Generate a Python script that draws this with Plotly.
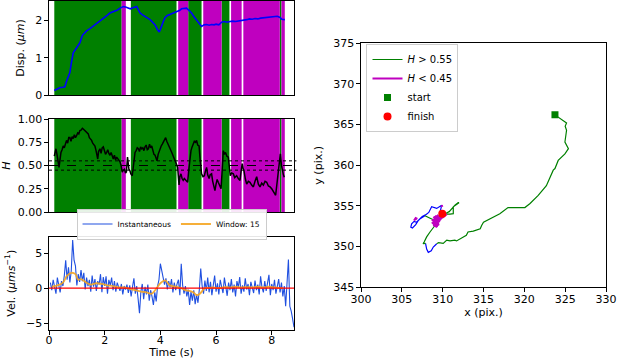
import numpy as np
import plotly.graph_objects as go

FONT = "DejaVu Sans"
GREEN = "#008000"
MAG = "#bf00bf"

# ---------------- data ----------------
# background classification regions (time, s)
green_starts = [0.19, 2.94, 5.00, 6.20, 8.29]
green_ends = [2.61, 4.58, 5.48, 6.48, 8.35]
mag_starts = [2.61, 4.64, 5.54, 6.54, 6.98, 8.35]
mag_ends = [2.76, 5.00, 6.20, 6.92, 8.29, 8.47]

# displacement (um)
disp_t = [0.19, 0.3, 0.4, 0.5, 0.57, 0.63, 0.7, 0.75, 0.8, 0.87, 0.95, 0.99, 1.05, 1.11, 1.2, 1.29,
          1.35, 1.47, 1.56, 1.65, 1.74, 1.83, 1.92, 2.01, 2.1, 2.19, 2.28, 2.37, 2.46, 2.55, 2.67,
          2.75, 2.85, 2.92, 2.99, 3.07, 3.15, 3.21, 3.27, 3.36, 3.45, 3.54, 3.63, 3.72, 3.81, 3.9,
          3.96, 4.0, 4.05, 4.11, 4.17, 4.25, 4.34, 4.43, 4.52, 4.6, 4.64, 4.7, 4.76, 4.85, 4.94,
          5.03, 5.12, 5.21, 5.3, 5.39, 5.48, 5.57, 5.66, 5.75, 5.84, 5.93, 6.0, 6.1, 6.2, 6.3, 6.4,
          6.5, 6.6, 6.7, 6.8, 6.9, 7.0, 7.1, 7.2, 7.3, 7.4, 7.5, 7.6, 7.7, 7.8, 7.9, 8.0, 8.1, 8.2,
          8.3, 8.36, 8.47]
disp_val = [0.12, 0.17, 0.2, 0.21, 0.22, 0.37, 0.5, 0.6, 0.85, 1.13, 1.22, 1.26, 1.32, 1.4, 1.6, 1.69,
            1.72, 1.78, 1.83, 1.87, 1.92, 1.97, 2.02, 2.08, 2.14, 2.2, 2.22, 2.24, 2.28, 2.33, 2.37,
            2.36, 2.33, 2.31, 2.33, 2.35, 2.37, 2.28, 2.2, 2.15, 2.11, 2.07, 2.02, 1.95, 1.88, 1.75,
            1.69, 1.76, 1.88, 1.98, 2.08, 2.13, 2.16, 2.19, 2.21, 2.23, 2.24, 2.27, 2.31, 2.33, 2.33,
            2.27, 2.2, 2.1, 2.02, 1.92, 1.84, 1.88, 1.89, 1.87, 1.89, 1.88, 1.9, 1.88, 1.95, 1.97, 1.95,
            1.97, 1.98, 1.97, 1.98, 2.0, 1.99, 2.02, 2.04, 2.03, 2.05, 2.04, 2.06, 2.07, 2.08, 2.07,
            2.09, 2.1, 2.11, 2.08, 2.03, 2.02]

# Hurst exponent
h_t = [0.19, 0.22, 0.25, 0.28, 0.31, 0.34, 0.36, 0.39, 0.43, 0.47, 0.51, 0.55, 0.59, 0.63, 0.67, 0.71,
       0.75, 0.79, 0.83, 0.87, 0.91, 0.95, 0.99, 1.03, 1.07, 1.11, 1.15, 1.20, 1.24, 1.29, 1.33, 1.37,
       1.41, 1.45, 1.49, 1.53, 1.57, 1.61, 1.65, 1.69, 1.72, 1.75, 1.78, 1.83, 1.87, 1.91, 1.95, 1.99,
       2.03, 2.07, 2.11, 2.15, 2.19, 2.23, 2.27, 2.31, 2.35, 2.39, 2.43, 2.47, 2.51, 2.55, 2.59, 2.63,
       2.67, 2.71, 2.75, 2.78, 2.82, 2.87, 2.91, 2.94, 2.99, 3.04, 3.09, 3.13, 3.17, 3.21, 3.25, 3.29,
       3.33, 3.37, 3.41, 3.45, 3.49, 3.53, 3.57, 3.61, 3.65, 3.69, 3.73, 3.77, 3.81, 3.85, 3.88, 3.92,
       3.96, 3.99, 4.03, 4.07, 4.11, 4.15, 4.19, 4.23, 4.29, 4.35, 4.41, 4.47, 4.52, 4.57, 4.62, 4.64,
       4.67, 4.70, 4.74, 4.78, 4.82, 4.86, 4.91, 4.95, 4.98, 5.02, 5.06, 5.10, 5.14, 5.18, 5.22, 5.26,
       5.30, 5.34, 5.39, 5.43, 5.48, 5.53, 5.58, 5.62, 5.66, 5.70, 5.75, 5.79, 5.84, 5.88, 5.92, 5.96,
       6.00, 6.04, 6.08, 6.13, 6.18, 6.22, 6.26, 6.30, 6.34, 6.39, 6.44, 6.48, 6.51, 6.56, 6.62, 6.67,
       6.74, 6.80, 6.86, 6.90, 6.94, 6.97, 7.00, 7.05, 7.10, 7.16, 7.22, 7.28, 7.34, 7.40, 7.46, 7.52,
       7.58, 7.64, 7.70, 7.76, 7.82, 7.88, 7.94, 8.00, 8.06, 8.10, 8.14, 8.18, 8.23, 8.27, 8.31, 8.35,
       8.38, 8.42, 8.45]
h_val = [0.60, 0.66, 0.68, 0.63, 0.59, 0.52, 0.48, 0.56, 0.64, 0.67, 0.71, 0.69, 0.75, 0.77, 0.74, 0.80,
         0.80, 0.76, 0.81, 0.79, 0.83, 0.80, 0.82, 0.85, 0.84, 0.875, 0.88, 0.90, 0.89, 0.875, 0.86, 0.85,
         0.84, 0.80, 0.79, 0.77, 0.74, 0.72, 0.71, 0.66, 0.60, 0.57, 0.65, 0.68, 0.63, 0.69, 0.70, 0.66,
         0.62, 0.64, 0.67, 0.63, 0.61, 0.64, 0.59, 0.57, 0.61, 0.56, 0.59, 0.57, 0.55, 0.54, 0.50, 0.43,
         0.45, 0.46, 0.42, 0.43, 0.59, 0.46, 0.44, 0.41, 0.39, 0.55, 0.64, 0.66, 0.69, 0.68, 0.65, 0.70,
         0.68, 0.69, 0.66, 0.70, 0.72, 0.67, 0.68, 0.73, 0.69, 0.71, 0.66, 0.62, 0.61, 0.56, 0.55, 0.62,
         0.66, 0.68, 0.71, 0.73, 0.75, 0.77, 0.80, 0.76, 0.71, 0.68, 0.64, 0.60, 0.57, 0.52, 0.48, 0.40,
         0.29, 0.38, 0.41, 0.36, 0.34, 0.36, 0.34, 0.33, 0.32, 0.45, 0.57, 0.66, 0.70, 0.73, 0.76, 0.75,
         0.77, 0.72, 0.71, 0.56, 0.41, 0.38, 0.39, 0.44, 0.48, 0.40, 0.36, 0.40, 0.41, 0.33, 0.27, 0.23,
         0.30, 0.35, 0.32, 0.28, 0.25, 0.45, 0.66, 0.62, 0.64, 0.60, 0.59, 0.48, 0.39, 0.42, 0.41, 0.37,
         0.39, 0.36, 0.34, 0.44, 0.52, 0.47, 0.45, 0.36, 0.30, 0.33, 0.32, 0.29, 0.27, 0.33, 0.38, 0.30,
         0.27, 0.31, 0.29, 0.33, 0.32, 0.28, 0.27, 0.25, 0.21, 0.20, 0.18, 0.30, 0.43, 0.52, 0.625, 0.50,
         0.43, 0.40, 0.375]
h_mid = 0.5
h_bounds = [0.45, 0.55]

# instantaneous velocity (um/s), sampled every 0.05 s from 0.05 s
vel_t0 = 0.05
vel_dt = 0.05
vel_inst = [0.8, -0.3, 1.2, 0.2, -0.8, 1.5, 0.4, -0.6, 1.0, 0.3, 1.8, 4.0, 1.2, 3.0, 0.8, 2.5, 6.9, 4.0, 3.2, 0.4,
            2.0, 0.9, 2.6, 1.0, 2.2, -0.2, 1.5, 0.3, 1.2, -0.5, 1.8, 0.2, 1.3, -0.4, 1.0, 0.5, 2.0, -0.6, 1.6, 0.3,
            1.7, -0.8, 1.2, 0.4, 1.5, -0.3, 1.0, -0.5, 0.8, 0.2, -0.4, 0.6, -0.9, 0.3, -0.2, 0.5, -0.7, 0.4, -1.2, 0.2,
            1.4, -0.8, 0.3, -1.5, -3.6, -0.5, 0.6, -1.6, 0.2, -0.9, 0.5, -1.8, -0.3, -1.2, -2.4, -0.6, -1.9, 0.3, 1.2, 3.5,
            2.5, 1.6, 0.5, 1.4, -0.2, 1.0, 0.1, 1.3, -0.6, 0.8, -0.3, 0.6, 1.2, -1.0, 3.5, 0.4, -0.8, 0.3, -1.2, -0.2,
            -2.4, -0.5, -1.8, -0.3, -2.3, -0.9, -2.1, -0.2, 2.8, 0.3, -0.8, 1.1, -0.4, 1.5, -0.6, 0.9, -1.0, 0.4, 1.8, -0.5,
            0.7, -0.9, 1.2, 0.2, -0.7, 1.5, 0.3, -1.1, 0.8, -0.3, 1.3, -0.6, 0.5, -1.2, 1.0, 0.1, 1.6, -0.8, 0.4, -0.5,
            1.4, -0.2, 0.6, -1.0, 0.9, 0.2, -0.7, 1.1, -0.3, 0.5, -0.9, 1.7, 0.1, -0.6, 1.0, -0.4, 0.7, 1.9, -1.0, 0.6,
            -0.3, 1.2, -0.8, 0.4, 1.3, -0.6, 0.8, -1.2, 0.3, -2.6, 0.5, 4.1, -2.6, -3.3, -4.4, -5.6]
vel_t = np.round(vel_t0 + vel_dt * np.arange(len(vel_inst)), 3)

# windowed velocity (window: 15)
win_t = [0.1, 0.3, 0.5, 0.65, 0.8, 0.95, 1.05, 1.15, 1.3, 1.5, 1.7, 1.9, 2.1, 2.3, 2.5, 2.7, 2.9, 3.1, 3.3,
         3.5, 3.69, 3.81, 4.0, 4.17, 4.34, 4.58, 4.75, 4.9, 5.05, 5.18, 5.3, 5.42, 5.6, 5.75, 5.9, 6.1, 6.3,
         6.5, 6.7, 6.9, 7.1, 7.3, 7.5, 7.7, 7.9, 8.1, 8.3, 8.4]
win_val = [0.2, 0.4, 0.8, 1.8, 2.2, 2.0, 1.2, 1.3, 0.9, 0.5, 0.7, 0.6, 0.4, 0.3, 0.1, 0.1, -0.1, -0.3, -0.5,
           -0.6, -0.8, -0.3, 0.7, 1.1, 0.4, 0.2, 0.0, -0.3, -0.4, -0.6, -1.0, -0.8, 0.0, 0.05, 0.1, 0.0, 0.15,
           0.1, 0.2, 0.1, 0.15, 0.1, 0.2, 0.1, 0.2, 0.1, 0.0, 0.05]

# trajectory (pixels)
green_x = [323.75, 324.56, 325.17, 325.0, 325.17, 324.97, 325.4, 324.97, 324.15, 323.75, 323.54, 322.7, 321.7,
           320.7, 320.07, 319.3, 318.6, 318.0, 317.0, 316.2, 315.4, 315.0, 314.77, 314.6, 313.75, 313.1, 312.9,
           312.1, 311.7, 311.5, 310.9, 310.5, 310.07, 309.5, 309.27, None,
           307.9, 307.6, 307.75, 308.04, 308.45, 308.7, 309.06, 308.85, None,
           308.85, 308.24, 307.83, None,
           309.7, 310.3, 310.8, 311.1, 311.5, 311.9, 312.0, 311.3, 311.3, 310.9, 310.5]
green_y = [366.2, 365.65, 365.2, 364.8, 364.3, 362.86, 362.05, 361.4, 360.6, 359.6, 359.4, 357.5, 356.3,
           355.3, 354.8, 354.8, 354.8, 354.8, 354.05, 353.6, 353.2, 353.0, 352.6, 352.2, 351.9, 351.8, 351.4,
           351.0, 350.7, 350.8, 350.7, 350.8, 350.4, 350.5, 350.36, None,
           350.4, 350.36, 350.6, 351.2, 351.8, 352.1, 352.6, 353.3, None,
           353.3, 353.6, 353.8, None,
           354.3, 354.05, 354.3, 354.7, 355.1, 355.4, 355.4, 354.9, 354.05, 354.0, 354.0]
blue_x = [309.27, 308.85, 308.6, 308.24, 308.04, 307.9, None,
          307.83, 307.2, 306.8, 306.5, 306.2, 306.1, 306.3, 306.7, 307.0, 307.5, 307.9, 308.3, 308.65,
          309.27, 309.88, 309.7]
blue_y = [350.36, 349.95, 349.5, 349.3, 349.7, 350.4, None,
          353.8, 353.4, 353.0, 353.1, 352.8, 352.4, 352.3, 352.7, 353.2, 353.7, 353.9, 354.2, 354.9,
          354.7, 355.1, 354.3]
mag_x = [306.5, 306.7, 306.9, None, 309.88, 309.95, None,
         310.5, 310.0, 309.6, 309.2, 308.9, 309.3, 308.7, 309.5, 308.9, 309.4, 309.1, 309.7, 308.8, 309.3,
         309.0, 309.6, 309.2, 308.9, 309.5, 309.1, 309.8, 309.3, 309.6, 309.95]
mag_y = [353.2, 353.5, 353.4, None, 355.1, 354.9, None,
         354.0, 353.6, 353.4, 353.0, 352.5, 352.9, 353.3, 352.6, 353.7, 352.8, 353.1, 353.4, 352.9, 352.4,
         353.6, 353.0, 353.8, 353.2, 352.7, 353.5, 353.3, 353.9, 353.5, 354.05]
start_xy = (323.75, 366.2)
finish_xy = (309.95, 354.05)

# ---------------- figure ----------------
fig = go.Figure()

fig.add_trace(go.Scatter(x=disp_t, y=disp_val, mode="lines", line=dict(color="#0000ff", width=1.6),
                         xaxis="x", yaxis="y", showlegend=False))
fig.add_trace(go.Scatter(x=h_t, y=h_val, mode="lines", line=dict(color="black", width=1.5),
                         xaxis="x2", yaxis="y2", showlegend=False))
fig.add_trace(go.Scatter(x=vel_t, y=vel_inst, mode="lines", line=dict(color="#2050e0", width=1.1),
                         xaxis="x3", yaxis="y3", name="Instantaneous", legend="legend2"))
fig.add_trace(go.Scatter(x=win_t, y=win_val, mode="lines", line=dict(color="#f5a623", width=1.8),
                         line_shape="spline", xaxis="x3", yaxis="y3", name="Window: 15", legend="legend2",
                         opacity=0.9))

fig.add_trace(go.Scatter(x=blue_x, y=blue_y, mode="lines", line=dict(color="#0000ff", width=1.2),
                         xaxis="x4", yaxis="y4", showlegend=False))
fig.add_trace(go.Scatter(x=green_x, y=green_y, mode="lines", line=dict(color=GREEN, width=1.2),
                         xaxis="x4", yaxis="y4", name="<i>H</i> > 0.55"))
fig.add_trace(go.Scatter(x=mag_x, y=mag_y, mode="lines", line=dict(color=MAG, width=2.2),
                         xaxis="x4", yaxis="y4", name="<i>H</i> < 0.45"))
fig.add_trace(go.Scatter(x=[start_xy[0]], y=[start_xy[1]], mode="markers",
                         marker=dict(symbol="square", color=GREEN, size=7),
                         xaxis="x4", yaxis="y4", name="start"))
fig.add_trace(go.Scatter(x=[finish_xy[0]], y=[finish_xy[1]], mode="markers",
                         marker=dict(symbol="circle", color="#ff0000", size=8),
                         xaxis="x4", yaxis="y4", name="finish"))

shapes = []
for xr, yr in (("x", "y domain"), ("x2", "y2 domain")):
    for a, b in zip(green_starts, green_ends):
        shapes.append(dict(type="rect", xref=xr, yref=yr, x0=a, x1=b, y0=0, y1=1,
                           fillcolor=GREEN, line=dict(width=0), layer="below"))
    for a, b in zip(mag_starts, mag_ends):
        shapes.append(dict(type="rect", xref=xr, yref=yr, x0=a, x1=b, y0=0, y1=1,
                           fillcolor=MAG, line=dict(width=0), layer="below"))
shapes.append(dict(type="line", xref="x2 domain", yref="y2", x0=0, x1=1.01, y0=h_mid, y1=h_mid,
                   line=dict(color="black", width=1.1, dash="dash")))
for hb in h_bounds:
    shapes.append(dict(type="line", xref="x2 domain", yref="y2", x0=0, x1=1.01, y0=hb, y1=hb,
                       line=dict(color="black", width=1, dash="dot")))
shapes.append(dict(type="line", xref="x3 domain", yref="y3", x0=0, x1=1, y0=0, y1=0,
                   line=dict(color="#ff0000", width=1.3)))

ax = dict(showline=True, mirror=True, linecolor="black", linewidth=1.2, showgrid=False, zeroline=False,
          ticks="outside", ticklen=3.5, tickcolor="black", tickfont=dict(size=11, color="black"),
          automargin=False)
LX = [49 / 617, 294 / 617]
H_AREA = 330  # plot-area height in px (359 minus bottom margin)


def ydom(top_px, bottom_px):
    return [(H_AREA - bottom_px) / H_AREA, (H_AREA - top_px) / H_AREA]


fig.update_layout(
    width=617, height=359, margin=dict(l=0, r=0, t=0, b=359 - H_AREA, autoexpand=False),
    paper_bgcolor="white", plot_bgcolor="white",
    font=dict(family=FONT, size=11, color="black"),
    shapes=shapes,
    xaxis=dict(ax, domain=LX, range=[0, 8.8], showticklabels=False, ticks="", anchor="y"),
    yaxis=dict(ax, domain=ydom(1, 95), range=[0, 2.52], tickvals=[0, 1, 2], anchor="x",
               title=dict(text="Disp. (<i>μm</i>)", font=dict(size=11), standoff=8)),
    xaxis2=dict(ax, domain=LX, range=[0, 8.8], showticklabels=False, ticks="", anchor="y2"),
    yaxis2=dict(ax, domain=ydom(119, 212), range=[0, 1], tickvals=[0, 0.25, 0.5, 0.75, 1],
                ticktext=["0.00", "0.25", "0.50", "0.75", "1.00"], anchor="x2",
                title=dict(text="<i>H</i>", font=dict(size=11), standoff=8)),
    xaxis3=dict(ax, domain=LX, range=[0, 8.8], tickvals=[0, 2, 4, 6, 8], anchor="y3",
                ticklabelstandoff=-4,
                title=dict(text="Time (s)", font=dict(size=11), standoff=7)),
    yaxis3=dict(ax, domain=ydom(236.5, 330), range=[-6, 7.4], tickvals=[-5, 0, 5],
                ticktext=["−5", "0", "5"], anchor="x3",
                title=dict(text="Vel. (<i>μms</i><sup>−1</sup>)", font=dict(size=11), standoff=8)),
    xaxis4=dict(ax, domain=[361 / 617, 606 / 617], range=[300, 330], tickvals=list(range(300, 331, 5)),
                anchor="y4", ticklabelstandoff=-2,
                title=dict(text="x (pix.)", font=dict(size=11), standoff=2)),
    yaxis4=dict(ax, domain=ydom(43.3, 287.3), range=[345, 375], tickvals=list(range(345, 376, 5)),
                anchor="x4", title=dict(text="y (pix.)", font=dict(size=11), standoff=8)),
    legend=dict(x=0.594, y=(H_AREA - 44) / H_AREA, xanchor="left", yanchor="top",
                bgcolor="rgba(255,255,255,0.9)", bordercolor="#cccccc", borderwidth=1,
                font=dict(size=10), tracegroupgap=0, itemwidth=30),
    legend2=dict(orientation="h", x=0.278, y=(H_AREA - 224) / H_AREA, xanchor="center", yanchor="middle",
                 bgcolor="rgba(255,255,255,0.9)", bordercolor="#cccccc", borderwidth=1,
                 font=dict(size=7.5)),
)

fig.write_html("out.html", post_script="document.body.style.margin='0';",
               config={"displayModeBar": False})
